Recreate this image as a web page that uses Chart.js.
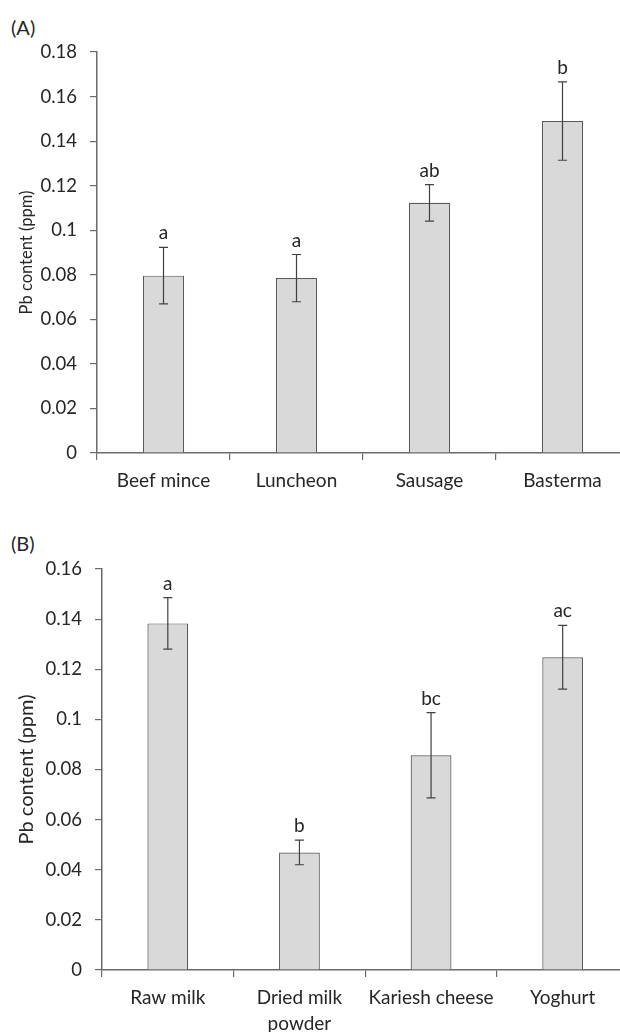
<!DOCTYPE html>
<html>
<head>
<meta charset="utf-8">
<script src="https://cdn.jsdelivr.net/npm/chart.js@4"></script>
<style>
  html, body { margin: 0; padding: 0; background: #fff; }
  body { width: 620px; height: 1032px; position: relative; overflow: hidden; font-family: Lato, sans-serif; color: #262626; }
  .panel { position: absolute; left: 0; width: 620px; overflow: hidden; }
  .tag { position: absolute; left: 11px; font-size: 20px; line-height: 20px; color: #262626; }
</style>
</head>
<body>
<div class="tag" style="top:17px">(A)</div>
<div class="panel" style="top:0; height:500px"><canvas id="meat" width="640" height="500"></canvas></div>
<div class="tag" style="top:533px">(B)</div>
<div class="panel" style="top:500px; height:532px"><canvas id="milk" width="640" height="532"></canvas></div>
<script>
// panel A - meat products
const meatLabels = ['Beef mince', 'Luncheon', 'Sausage', 'Basterma'];
const meatPb = [0.0796, 0.0785, 0.1123, 0.149];
const meatErr = [0.0127, 0.0106, 0.0082, 0.0176];
const meatLetters = ['a', 'a', 'ab', 'b'];
const meatMax = 0.18;

// panel B - dairy products
const milkLabels = ['Raw milk', ['Dried milk', 'powder'], 'Kariesh cheese', 'Yoghurt'];
const milkPb = [0.1383, 0.0469, 0.0857, 0.1248];
const milkErr = [0.0103, 0.0049, 0.0170, 0.0127];
const milkLetters = ['a', 'b', 'bc', 'ac'];
const milkMax = 0.16;

const tickStep = 0.02;

// error bars + significance letters on top of each bar
const errorBars = {
  id: 'errorBars',
  afterDatasetsDraw(chart, args, opts) {
    const { ctx, scales: { x, y } } = chart;
    const values = chart.data.datasets[0].data;
    ctx.save();
    ctx.strokeStyle = '#404040';
    ctx.lineWidth = 1.2;
    ctx.fillStyle = '#262626';
    ctx.font = '19px Lato';
    ctx.textAlign = 'center';
    ctx.textBaseline = 'alphabetic';
    values.forEach((v, i) => {
      const px = x.getPixelForValue(i);
      const top = y.getPixelForValue(v + opts.errors[i]);
      const bot = y.getPixelForValue(v - opts.errors[i]);
      ctx.beginPath();
      ctx.moveTo(px, top); ctx.lineTo(px, bot);
      ctx.moveTo(px - 4.5, top); ctx.lineTo(px + 4.5, top);
      ctx.moveTo(px - 4.5, bot); ctx.lineTo(px + 4.5, bot);
      ctx.stroke();
      ctx.fillText(opts.letters[i], px, top - 8);
    });
    ctx.restore();
  }
};

function makeChart(id, labels, values, errors, letters, yMax, layout) {
  return new Chart(document.getElementById(id), {
    type: 'bar',
    data: {
      labels: labels,
      datasets: [{
        data: values,
        backgroundColor: '#d9d9d9',
        borderColor: '#595959',
        borderWidth: 1.2,
        categoryPercentage: 1,
        barPercentage: 0.31,
      }],
    },
    options: {
      responsive: false,
      animation: false,
      layout: { padding: { left: 0, top: layout.top, right: layout.right, bottom: 0 } },
      plugins: {
        legend: { display: false },
        tooltip: { enabled: false },
        errorBars: { errors: errors, letters: letters },
      },
      scales: {
        x: {
          grid: { display: true, offset: true, drawOnChartArea: false, drawTicks: true, tickLength: 7, color: '#6b6b6b', lineWidth: 1.2 },
          border: { display: true, color: '#6b6b6b', width: 1.5 },
          ticks: { color: '#262626', font: { family: 'Lato', size: 19, lineHeight: 1.38 }, padding: 8, maxRotation: 0, autoSkip: false },
          afterFit: scale => { scale.height = layout.xHeight; },
        },
        y: {
          min: 0,
          max: yMax,
          grid: { display: true, drawOnChartArea: false, drawTicks: true, tickLength: 7, color: '#6b6b6b', lineWidth: 1.2 },
          border: { display: true, color: '#6b6b6b', width: 1.5 },
          ticks: {
            stepSize: tickStep,
            color: '#262626',
            font: { family: 'Lato', size: 18.5 },
            padding: 13,
            callback: v => String(+v.toFixed(2)),
          },
          title: {
            display: true,
            text: 'Pb content (ppm)',
            color: '#262626',
            font: { family: 'Lato', size: layout.titleSize },
            padding: { top: layout.titlePad, bottom: 0 },
          },
          afterFit: scale => { scale.width = layout.yWidth; },
        },
      },
    },
    plugins: [errorBars],
  });
}

makeChart('meat', meatLabels, meatPb, meatErr, meatLetters, meatMax,
  { top: 52, right: 11, xHeight: 47, yWidth: 97, titleSize: 16.5, titlePad: 17 });
makeChart('milk', milkLabels, milkPb, milkErr, milkLetters, milkMax,
  { top: 69, right: 11.5, xHeight: 62, yWidth: 102, titleSize: 20, titlePad: 15 });
</script>
</body>
</html>
